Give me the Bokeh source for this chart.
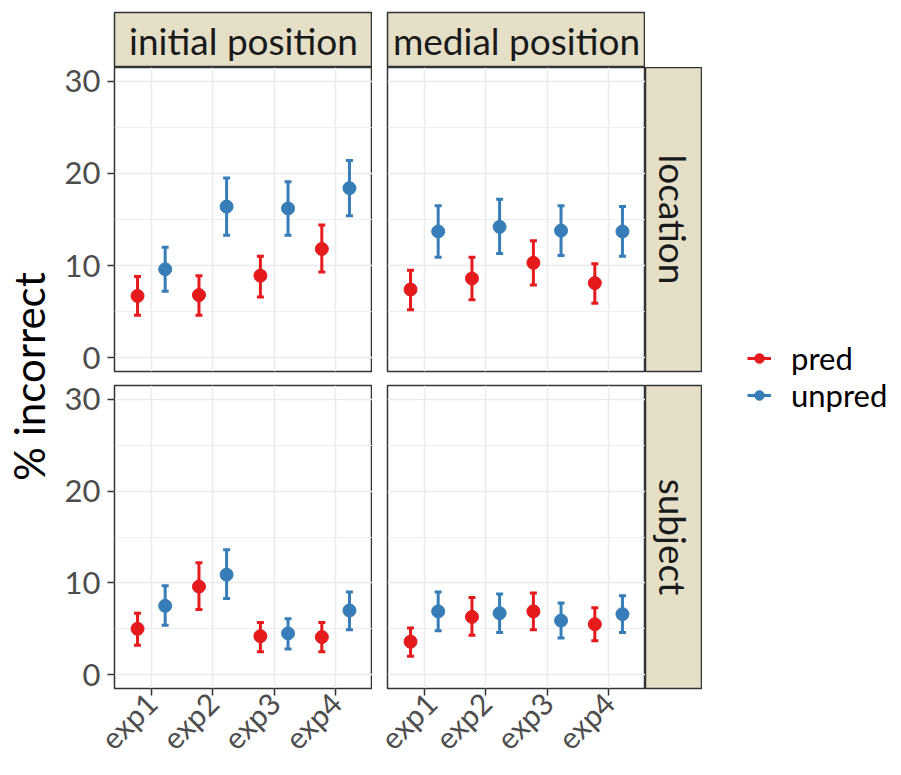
import math
from bokeh.plotting import figure
from bokeh.models import (Range1d, LinearAxis, FixedTicker, Whisker, TeeHead,
                          ColumnDataSource, Label, Legend, LegendItem, Spacer)
from bokeh.layouts import row, column
from bokeh.embed import file_html
from bokeh.resources import INLINE

# ---------------- data ----------------
experiments = ["exp1", "exp2", "exp3", "exp4"]
conditions = ["pred", "unpred"]
positions = ["initial position", "medial position"]
roles = ["location", "subject"]
y_ticks = [0, 10, 20, 30]
y_minor = [5, 15, 25]

loc_init_pred_mean = [6.7, 6.8, 8.9, 11.8]
loc_init_pred_lo = [4.6, 4.6, 6.6, 9.3]
loc_init_pred_hi = [8.8, 8.9, 11.0, 14.4]
loc_init_unpred_mean = [9.6, 16.4, 16.2, 18.4]
loc_init_unpred_lo = [7.2, 13.3, 13.3, 15.4]
loc_init_unpred_hi = [12.0, 19.5, 19.1, 21.4]

loc_med_pred_mean = [7.4, 8.6, 10.3, 8.1]
loc_med_pred_lo = [5.2, 6.3, 7.9, 5.9]
loc_med_pred_hi = [9.5, 10.9, 12.7, 10.2]
loc_med_unpred_mean = [13.7, 14.2, 13.8, 13.7]
loc_med_unpred_lo = [10.9, 11.3, 11.1, 11.0]
loc_med_unpred_hi = [16.5, 17.2, 16.5, 16.4]

subj_init_pred_mean = [5.0, 9.6, 4.2, 4.1]
subj_init_pred_lo = [3.2, 7.1, 2.5, 2.5]
subj_init_pred_hi = [6.7, 12.2, 5.7, 5.7]
subj_init_unpred_mean = [7.5, 10.9, 4.5, 7.0]
subj_init_unpred_lo = [5.4, 8.3, 2.8, 4.9]
subj_init_unpred_hi = [9.7, 13.6, 6.1, 9.0]

subj_med_pred_mean = [3.6, 6.3, 6.9, 5.5]
subj_med_pred_lo = [2.0, 4.3, 4.9, 3.7]
subj_med_pred_hi = [5.1, 8.4, 8.9, 7.3]
subj_med_unpred_mean = [6.9, 6.7, 5.9, 6.6]
subj_med_unpred_lo = [4.8, 4.6, 4.0, 4.6]
subj_med_unpred_hi = [9.0, 8.8, 7.8, 8.6]

panels = {
    ("location", "initial position"): {
        "pred": (loc_init_pred_mean, loc_init_pred_lo, loc_init_pred_hi),
        "unpred": (loc_init_unpred_mean, loc_init_unpred_lo, loc_init_unpred_hi)},
    ("location", "medial position"): {
        "pred": (loc_med_pred_mean, loc_med_pred_lo, loc_med_pred_hi),
        "unpred": (loc_med_unpred_mean, loc_med_unpred_lo, loc_med_unpred_hi)},
    ("subject", "initial position"): {
        "pred": (subj_init_pred_mean, subj_init_pred_lo, subj_init_pred_hi),
        "unpred": (subj_init_unpred_mean, subj_init_unpred_lo, subj_init_unpred_hi)},
    ("subject", "medial position"): {
        "pred": (subj_med_pred_mean, subj_med_pred_lo, subj_med_pred_hi),
        "unpred": (subj_med_unpred_mean, subj_med_unpred_lo, subj_med_unpred_hi)},
}

# ---------------- style ----------------
FONT = "Lato"
COLORS = {"pred": "#E41A1C", "unpred": "#377EB8"}
DODGE = {"pred": -0.225, "unpred": 0.225}
STRIP_FILL = "#E5DFC8"
BORDER = "#333333"
GRID = "#EBEBEB"

H_TOP, H_ROW1, H_ROW2 = 67, 310, 397
MB_TOP_STRIP = 12
MBB_ROW1 = 6
MBT_ROW2, MBB_ROW2 = 8, 86
W_YLAB, W_COL1, W_COL2, W_STRIP = 58, 314, 273, 57
MBL_COL1, MBL_COL2 = 56, 15
W_LEG = 900 - W_YLAB - W_COL1 - W_COL2 - W_STRIP
H_TOTAL = H_TOP + H_ROW1 + H_ROW2


def xpos(cond):
    return [i + 1 + DODGE[cond] for i in range(len(experiments))]


def make_panel(role, pos, width, height, mbl, mbt, mbb, left_axis, bottom_axis):
    p = figure(width=width, height=height, output_backend="svg", toolbar_location=None,
               x_range=Range1d(0.4, 4.6), y_range=Range1d(-1.5, 31.5),
               x_axis_location=None, y_axis_location=None,
               min_border_left=mbl, min_border_right=0, min_border_top=mbt,
               min_border_bottom=mbb)
    p.outline_line_color = BORDER
    p.outline_line_width = 1.5
    p.background_fill_color = "white"
    p.border_fill_color = "white"
    p.xgrid.ticker = FixedTicker(ticks=[i + 1 for i in range(len(experiments))])
    p.xgrid.grid_line_color = GRID
    p.xgrid.grid_line_width = 1.6
    p.ygrid.ticker = FixedTicker(ticks=y_ticks, minor_ticks=y_minor)
    p.ygrid.grid_line_color = GRID
    p.ygrid.grid_line_width = 1.6
    p.ygrid.minor_grid_line_color = GRID
    p.ygrid.minor_grid_line_width = 0.8

    if left_axis:
        ax = LinearAxis(ticker=FixedTicker(ticks=y_ticks, minor_ticks=[]))
        ax.axis_line_color = None
        ax.major_tick_out = 7
        ax.major_tick_in = 0
        ax.minor_tick_out = 0
        ax.major_tick_line_color = BORDER
        ax.major_tick_line_width = 1.5
        ax.major_label_text_font = FONT
        ax.major_label_text_font_size = "31px"
        ax.major_label_text_color = "#4D4D4D"
        ax.major_label_standoff = 7
        p.add_layout(ax, "left")
    if bottom_axis:
        bx = LinearAxis(ticker=FixedTicker(ticks=[i + 1 for i in range(len(experiments))], minor_ticks=[]))
        bx.major_label_overrides = {i + 1: e for i, e in enumerate(experiments)}
        bx.major_label_orientation = math.pi / 4
        bx.axis_line_color = None
        bx.major_tick_out = 7
        bx.major_tick_in = 0
        bx.minor_tick_out = 0
        bx.major_tick_line_color = BORDER
        bx.major_tick_line_width = 1.5
        bx.major_label_text_font = FONT
        bx.major_label_text_font_size = "30px"
        bx.major_label_text_color = "#4D4D4D"
        bx.major_label_standoff = 2
        p.add_layout(bx, "below")

    for cond in conditions:
        mean, lo, hi = panels[(role, pos)][cond]
        c = COLORS[cond]
        src = ColumnDataSource(dict(x=xpos(cond), y=mean, lo=lo, hi=hi))
        w = Whisker(source=src, base="x", lower="lo", upper="hi", dimension="height",
                    line_color=c, line_width=3,
                    upper_head=TeeHead(size=7, line_color=c, line_width=3),
                    lower_head=TeeHead(size=7, line_color=c, line_width=3))
        p.add_layout(w)
        p.scatter("x", "y", source=src, size=13, color=c)
    return p


def strip_fig(width, height, mbl, mbr, mbt, mbb):
    p = figure(width=width, height=height, output_backend="svg", toolbar_location=None,
               x_range=Range1d(0, 1), y_range=Range1d(0, 1),
               x_axis_location=None, y_axis_location=None,
               min_border_left=mbl, min_border_right=mbr, min_border_top=mbt,
               min_border_bottom=mbb)
    p.xgrid.visible = False
    p.ygrid.visible = False
    p.background_fill_color = STRIP_FILL
    p.border_fill_color = "white"
    p.outline_line_color = BORDER
    p.outline_line_width = 1.5
    return p


def top_strip(text, width, mbl):
    p = strip_fig(width, H_TOP, mbl, 0, MB_TOP_STRIP, 0)
    p.add_layout(Label(x=0.5, y=0.5, text=text, text_align="center", text_baseline="middle",
                       text_font=FONT, text_font_size="37px", text_color="#1A1A1A"))
    return p


def right_strip(text, height, mbt, mbb):
    p = strip_fig(W_STRIP, height, 0, 1, mbt, mbb)
    p.add_layout(Label(x=0.5, y=0.5, text=text, angle=-math.pi / 2, text_align="center",
                       text_baseline="middle", text_font=FONT, text_font_size="37px",
                       text_color="#1A1A1A"))
    return p


# y-axis title
ylab = figure(width=W_YLAB, height=H_TOTAL, output_backend="svg", toolbar_location=None,
              x_range=Range1d(0, W_YLAB), y_range=Range1d(0, H_TOTAL),
              x_axis_location=None, y_axis_location=None, min_border=0)
ylab.xgrid.visible = False
ylab.ygrid.visible = False
ylab.outline_line_color = None
ylab.add_layout(Label(x=28, y=H_TOTAL - 376, text="% incorrect", angle=math.pi / 2,
                      text_align="center", text_baseline="middle",
                      text_font=FONT, text_font_size="42px", text_color="black"))

# panels
tl = make_panel("location", "initial position", W_COL1, H_ROW1, MBL_COL1, 0, MBB_ROW1, True, False)
tr = make_panel("location", "medial position", W_COL2, H_ROW1, MBL_COL2, 0, MBB_ROW1, False, False)
bl = make_panel("subject", "initial position", W_COL1, H_ROW2, MBL_COL1, MBT_ROW2, MBB_ROW2, True, True)
br = make_panel("subject", "medial position", W_COL2, H_ROW2, MBL_COL2, MBT_ROW2, MBB_ROW2, False, True)

s_init = top_strip(positions[0], W_COL1, MBL_COL1)
s_med = top_strip(positions[1], W_COL2, MBL_COL2)
s_loc = right_strip(roles[0], H_ROW1, 0, MBB_ROW1)
s_subj = right_strip(roles[1], H_ROW2, MBT_ROW2, MBB_ROW2)

# legend (proxy renderers hold real data but sit outside this figure's view)
lf = figure(width=W_LEG, height=H_TOTAL, output_backend="svg", toolbar_location=None,
            x_range=Range1d(100, 101), y_range=Range1d(100, 101),
            x_axis_location=None, y_axis_location=None, min_border=0)
lf.xgrid.visible = False
lf.ygrid.visible = False
lf.outline_line_color = None
legend_rows_from_bottom = {"pred": H_TOTAL - 377, "unpred": H_TOTAL - 414}
for cond in conditions:
    mean = panels[("location", "initial position")][cond][0]
    lr = lf.line(x=xpos(cond), y=mean, line_color=COLORS[cond], line_width=3)
    sr = lf.scatter(x=xpos(cond), y=mean, size=13, color=COLORS[cond])
    leg = Legend(items=[LegendItem(label=cond, renderers=[lr, sr])],
                 location=(45, legend_rows_from_bottom[cond]), border_line_color=None,
                 background_fill_alpha=0, glyph_width=24, glyph_height=30, label_height=30,
                 label_text_font=FONT, label_text_font_size="31px", label_text_color="black",
                 label_standoff=20, spacing=0, padding=0, margin=0)
    lf.add_layout(leg)

grid = column(
    row(s_init, s_med, Spacer(width=W_STRIP, height=H_TOP)),
    row(tl, tr, s_loc),
    row(bl, br, s_subj),
)
p = row(ylab, grid, lf)

open("out.html", "w").write(file_html(p, INLINE))
